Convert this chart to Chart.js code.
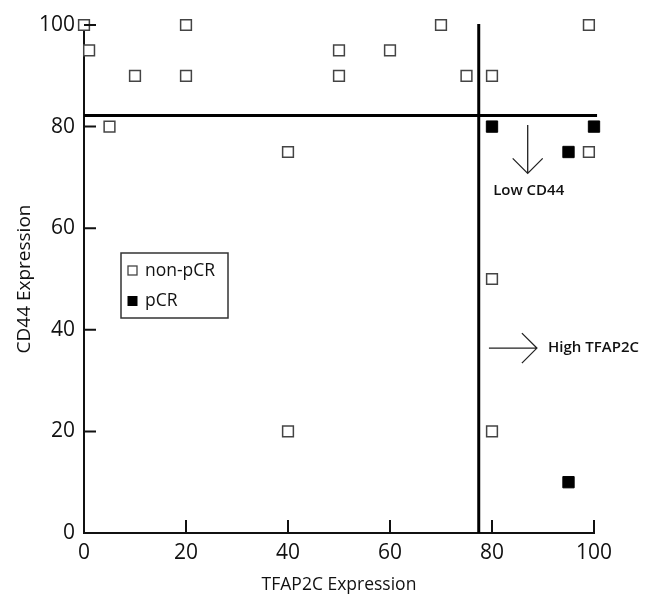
<!DOCTYPE html>
<html>
<head>
<meta charset="utf-8">
<script src="https://cdn.jsdelivr.net/npm/chart.js@4.4.1/dist/chart.umd.min.js"></script>
<style>
  html, body { margin: 0; padding: 0; background: #fff; }
  #wrap { width: 651px; height: 602px; }
</style>
</head>
<body>
<div id="wrap"><canvas id="chart" width="651" height="602"></canvas></div>
<script>
/* ── Data ───────────────────────────────────────────── */
const nonPcrX = [0, 1, 20, 10, 20, 50, 50, 60, 70, 75, 80, 99, 5, 40, 99, 80, 40, 80];
const nonPcrY = [100, 95, 100, 90, 90, 95, 90, 95, 100, 90, 90, 100, 80, 75, 75, 50, 20, 20];
const pcrX    = [80, 95, 100, 95];
const pcrY    = [80, 75, 80, 10];
const xTicks  = [0, 20, 40, 60, 80, 100];
const yTicks  = [0, 20, 40, 60, 80, 100];
const cutX    = 77.4;   // TFAP2C threshold
const cutY    = 82.2;   // CD44 threshold

const FONT = "'Open Sans', 'DejaVu Sans', sans-serif";
const INK  = '#111';

const toPts = (xs, ys) => xs.map((x, i) => ({ x, y: ys[i] }));

/* ── Inward tick marks, arrows, legend ─────────────── */
const decorations = {
  id: 'decorations',
  afterDatasetsDraw(chart) {
    const { ctx, chartArea: a, scales: { x, y } } = chart;
    ctx.save();
    ctx.strokeStyle = INK;
    ctx.lineWidth = 2;
    ctx.beginPath();
    xTicks.filter(v => v !== 0).forEach(v => {
      const px = x.getPixelForValue(v);
      ctx.moveTo(px, a.bottom); ctx.lineTo(px, a.bottom - 13);
    });
    yTicks.filter(v => v !== 0).forEach(v => {
      const py = y.getPixelForValue(v);
      ctx.moveTo(a.left, py); ctx.lineTo(a.left + 12, py);
    });
    ctx.stroke();

    // Low CD44 arrow
    ctx.lineWidth = 1.3;
    ctx.strokeStyle = '#222';
    const ax = x.getPixelForValue(87);
    const ay1 = y.getPixelForValue(80.3), ay2 = y.getPixelForValue(70.8);
    ctx.beginPath();
    ctx.moveTo(ax, ay1); ctx.lineTo(ax, ay2);
    ctx.moveTo(ax - 15, ay2 - 15); ctx.lineTo(ax, ay2); ctx.lineTo(ax + 15, ay2 - 15);
    ctx.stroke();

    // High TFAP2C arrow
    const hy = y.getPixelForValue(36.4);
    const hx1 = x.getPixelForValue(79.4), hx2 = x.getPixelForValue(88.8);
    ctx.beginPath();
    ctx.moveTo(hx1, hy); ctx.lineTo(hx2, hy);
    ctx.moveTo(hx2 - 15, hy - 15); ctx.lineTo(hx2, hy); ctx.lineTo(hx2 - 15, hy + 15);
    ctx.stroke();

    ctx.fillStyle = INK;
    ctx.font = `600 15px ${FONT}`;
    ctx.textBaseline = 'middle';
    ctx.textAlign = 'center';
    ctx.fillText('Low CD44', ax + 1, y.getPixelForValue(67.3));
    ctx.textAlign = 'left';
    ctx.fillText('High TFAP2C', x.getPixelForValue(91), hy);

    // legend box
    const lx = a.left + 37, ly = a.top + 228;
    ctx.lineWidth = 1.5;
    ctx.strokeStyle = '#333';
    ctx.strokeRect(lx, ly, 107, 65);
    ctx.lineWidth = 1.3;
    ctx.strokeStyle = '#444';
    ctx.fillStyle = '#fff';
    ctx.fillRect(lx + 7, ly + 13, 9, 9);
    ctx.strokeRect(lx + 7, ly + 13, 9, 9);
    ctx.fillStyle = '#000';
    ctx.fillRect(lx + 6.5, ly + 43, 10, 10);
    ctx.fillStyle = INK;
    ctx.font = `17.5px ${FONT}`;
    ctx.fillText('non-pCR', lx + 24, ly + 18);
    ctx.fillText('pCR', lx + 24, ly + 48);
    ctx.restore();
  }
};

/* ── Chart ──────────────────────────────────────────── */
new Chart(document.getElementById('chart'), {
  type: 'scatter',
  data: {
    datasets: [
      {
        label: 'cutY',
        data: [{ x: 0, y: cutY }, { x: 100.6, y: cutY }],
        showLine: true, borderColor: '#000', borderWidth: 3, pointRadius: 0, clip: false
      },
      {
        label: 'cutX',
        data: [{ x: cutX, y: 0 }, { x: cutX, y: 100.2 }],
        showLine: true, borderColor: '#000', borderWidth: 3, pointRadius: 0, clip: false
      },
      {
        label: 'non-pCR',
        data: toPts(nonPcrX, nonPcrY),
        pointStyle: 'rect', pointRadius: 7.6,
        backgroundColor: '#fff', borderColor: '#444', borderWidth: 1.5, clip: false
      },
      {
        label: 'pCR',
        data: toPts(pcrX, pcrY),
        pointStyle: 'rect', pointRadius: 8,
        backgroundColor: '#000', borderColor: '#000', borderWidth: 1, clip: false
      }
    ]
  },
  options: {
    responsive: false,
    animation: false,
    events: [],
    layout: { padding: { top: 25, right: 57, bottom: 0, left: 0 } },
    plugins: { legend: { display: false }, tooltip: { enabled: false } },
    scales: {
      x: {
        type: 'linear', min: 0, max: 100,
        afterBuildTicks: s => { s.ticks = xTicks.map(v => ({ value: v })); },
        afterFit: s => { s.height = 69; },
        grid: { display: false, drawTicks: false },
        border: { display: true, color: INK, width: 2 },
        ticks: { font: { size: 21, family: FONT }, color: INK, padding: 7, maxRotation: 0 },
        title: { display: true, text: 'TFAP2C Expression', color: INK,
                 font: { size: 17.5, family: FONT }, padding: { top: 0, bottom: 6 } }
      },
      y: {
        type: 'linear', min: 0, max: 100,
        afterBuildTicks: s => { s.ticks = yTicks.map(v => ({ value: v })); },
        afterFit: s => { s.width = 84; },
        grid: { display: false, drawTicks: false },
        border: { display: true, color: INK, width: 2 },
        ticks: { font: { size: 21, family: FONT }, color: INK, padding: 9 },
        title: { display: true, text: 'CD44 Expression', color: INK,
                 font: { size: 19, family: FONT }, padding: { top: 13.5, bottom: 0 } }
      }
    }
  },
  plugins: [decorations]
});
</script>
</body>
</html>
